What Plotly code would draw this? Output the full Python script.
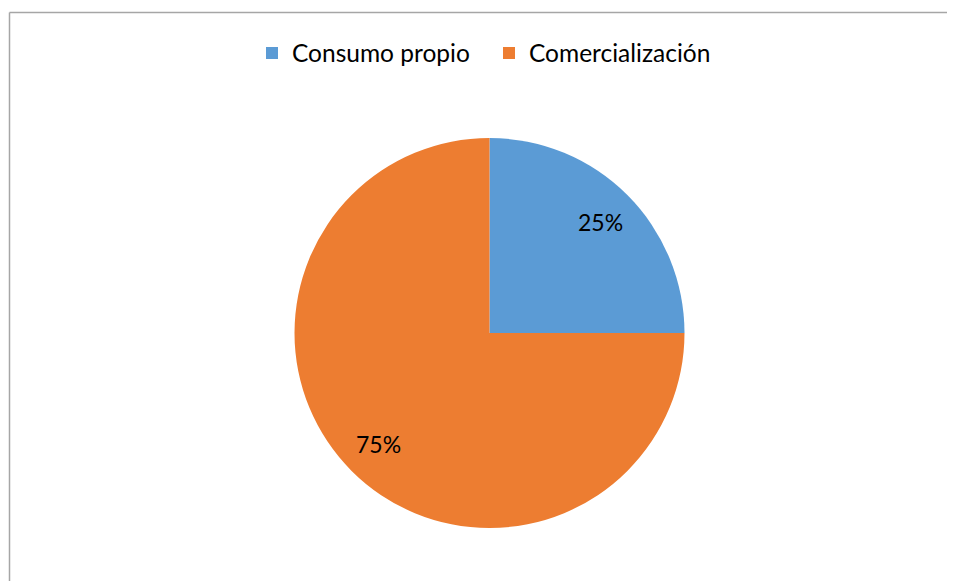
import math
import plotly.graph_objects as go

labels = ["Consumo propio", "Comercialización"]
values = [25, 75]
colors = ["#5B9BD5", "#ED7D31"]

W, H = 955, 581
OFF = 8  # page body margin
cx, cy, r = 489.5 - OFF, 333 - OFF, 195
label_r = 0.805 * r

fig = go.Figure(go.Pie(
    labels=labels,
    values=values,
    sort=False,
    direction="clockwise",
    rotation=0,
    marker=dict(colors=colors, line=dict(width=0)),
    textinfo="none",
    domain=dict(x=[(cx - r) / W, (cx + r) / W], y=[1 - (cy + r) / H, 1 - (cy - r) / H]),
    hoverinfo="label+percent",
))

# percentage labels placed at each slice's mid-angle
total = sum(values)
annotations = []
cum = 0
for v in values:
    mid = (cum + v / 2) / total * 2 * math.pi
    cum += v
    x = cx + label_r * math.sin(mid)
    y = cy - label_r * math.cos(mid)
    annotations.append(dict(
        x=x / W, y=1 - y / H, xref="paper", yref="paper",
        text=f"{round(v / total * 100)}%", showarrow=False,
        xanchor="center", yanchor="middle",
        font=dict(family="Lato", size=23, color="black"),
    ))

fig.update_layout(
    width=W, height=H,
    margin=dict(l=0, r=0, t=0, b=0),
    paper_bgcolor="white",
    plot_bgcolor="white",
    font=dict(family="Lato", size=24.5, color="black"),
    showlegend=True,
    legend=dict(orientation="h", x=(489 - OFF) / W, xanchor="center", y=1 - (53 - OFF) / H, yanchor="middle",
                font=dict(family="Lato", size=24.5, color="black"), entrywidth=192, entrywidthmode="pixels"),
    annotations=annotations,
    shapes=[
        dict(type="line", xref="paper", yref="paper", x0=(9.5 - OFF) / W, x1=1.0,
             y0=1 - (12.5 - OFF) / H, y1=1 - (12.5 - OFF) / H,
             line=dict(color="#A6A6A6", width=1.5)),
        dict(type="line", xref="paper", yref="paper", x0=(9.5 - OFF) / W, x1=(9.5 - OFF) / W,
             y0=0, y1=1 - (12.5 - OFF) / H,
             line=dict(color="#A6A6A6", width=1.5)),
    ],
)

fig.write_html("out.html")
